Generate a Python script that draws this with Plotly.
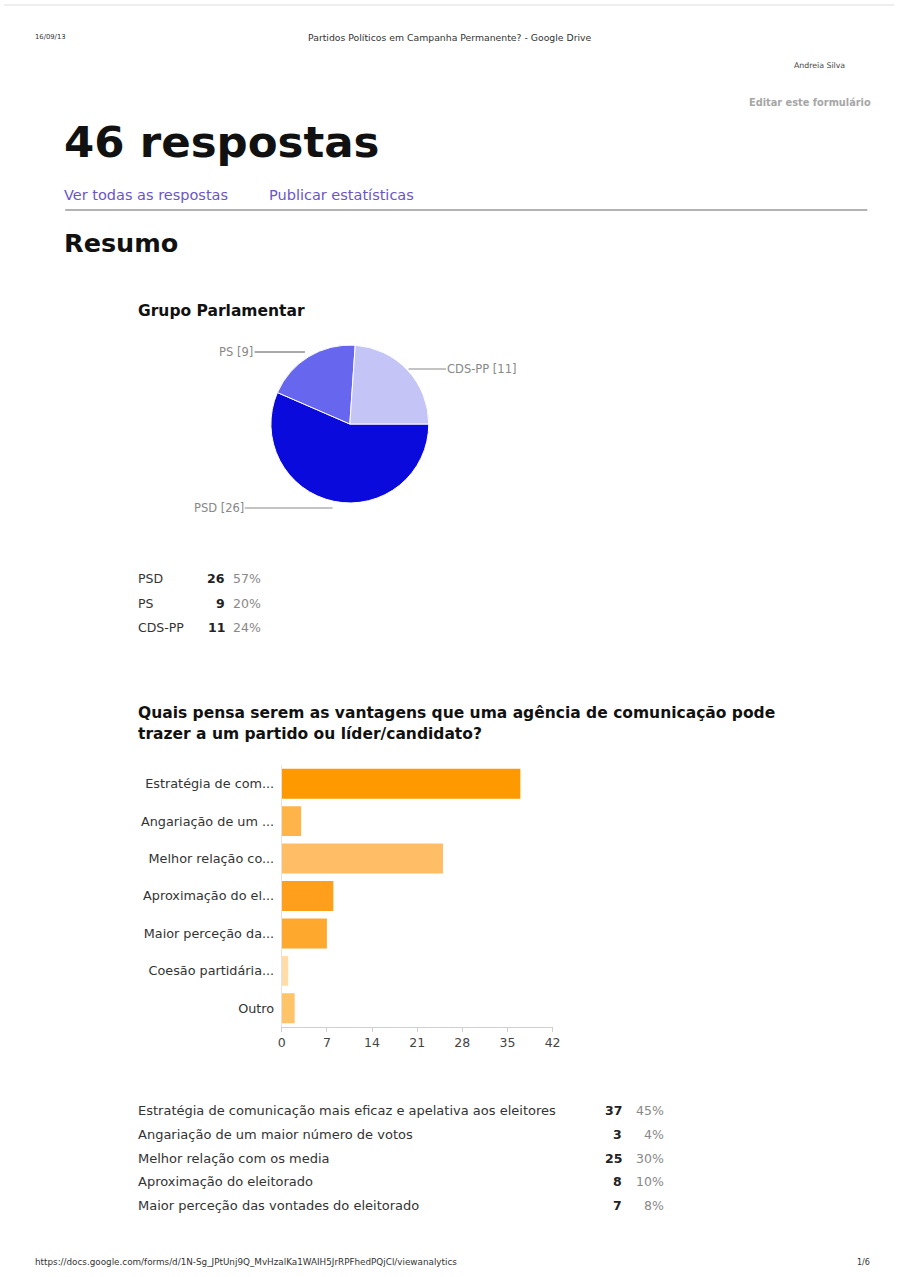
import plotly.graph_objects as go

W, H = 902, 1277

# ---- data ----
party_labels = ["PSD", "PS", "CDS-PP"]
party_counts = [26, 9, 11]
party_pcts = ["57%", "20%", "24%"]
party_colors = ["#0A0ADC", "#6666EE", "#C4C4F6"]

adv_short = ["Estratégia de com...", "Angariação de um ...", "Melhor relação co...",
             "Aproximação do el...", "Maior perceção da...", "Coesão partidária...", "Outro"]
adv_full = ["Estratégia de comunicação mais eficaz e apelativa aos eleitores",
            "Angariação de um maior número de votos",
            "Melhor relação com os media",
            "Aproximação do eleitorado",
            "Maior perceção das vontades do eleitorado"]
adv_counts = [37, 3, 25, 8, 7, 1, 2]
adv_pcts = ["45%", "4%", "30%", "10%", "8%"]
adv_colors = ["#FF9900", "#FFB44A", "#FFBE66", "#FF9F1C", "#FFA82E", "#FFDCA8", "#FFC468"]
adv_ticks = [0, 7, 14, 21, 28, 35, 42]

FONT = "DejaVu Sans"


def X(px):
    return px / W


def Y(py):
    return 1 - py / H


fig = go.Figure()

# pie: parliamentary group
fig.add_trace(go.Pie(
    labels=party_labels, values=party_counts, sort=False,
    direction="clockwise", rotation=90,
    marker=dict(colors=party_colors, line=dict(color="white", width=1)),
    textinfo="none", hoverinfo="label+value", showlegend=False,
    domain=dict(x=[X(270.5), X(430.5)], y=[Y(504), Y(344)]),
))

# horizontal bars: advantages
fig.add_trace(go.Bar(
    y=adv_short, x=adv_counts, orientation="h",
    marker=dict(color=adv_colors, line=dict(width=0)),
    showlegend=False, hoverinfo="x+y",
))

fig.update_layout(
    width=W, height=H,
    margin=dict(l=0, r=0, t=0, b=0),
    paper_bgcolor="white", plot_bgcolor="white",
    font=dict(family=FONT, color="#222"),
    bargap=0.2,
    xaxis=dict(domain=[X(281.5), X(556)], range=[0, 42], tickvals=adv_ticks,
               showgrid=False, zeroline=False, showline=True, linecolor="#cfcfcf",
               ticks="outside", ticklen=4, tickcolor="#cfcfcf",
               tickfont=dict(size=12.5, color="#444", family=FONT)),
    yaxis=dict(domain=[Y(1027), Y(765)], autorange="reversed",
               showgrid=False, zeroline=False, showline=True, linecolor="#e2e2e2",
               ticks="", ticklabelstandoff=4,
               tickfont=dict(size=12.8, color="#333", family=FONT)),
)

ann = []


def txt(x, y, s, size, color="#222", anchor="left", bold=False):
    # annotations carry a small inner padding; shift it back out
    shift = {"left": -3, "right": 3, "center": 0}[anchor]
    ann.append(dict(x=X(x), y=Y(y), xref="paper", yref="paper", showarrow=False,
                    text=f"<b>{s}</b>" if bold else s, xanchor=anchor, yanchor="middle",
                    xshift=shift,
                    font=dict(family=FONT, size=size, color=color)))


# page header
txt(32, 37, "16/09/13", 6.8, "#333")
txt(452, 37, "Partidos Políticos em Campanha Permanente? - Google Drive", 9.3, "#333", "center")
txt(851, 65, "Andreia Silva", 7.8, "#444", "right")
txt(878, 103, "Editar este formulário", 9.8, "#a6a6a6", "right", True)
txt(62, 142, "46 respostas", 43.5, "#111", bold=True)
txt(62, 195, "Ver todas as respostas", 14.5, "#6a55c8")
txt(270, 195, "Publicar estatísticas", 14.5, "#6a55c8")
txt(62, 243, "Resumo", 25.5, "#111", bold=True)

# pie section
txt(137, 311, "Grupo Parlamentar", 15.5, "#111", bold=True)
txt(251, 352, "PS [9]", 11.5, "#888", "right")
txt(450, 369, "CDS-PP [11]", 11.5, "#888", "left")
txt(242, 508, "PSD [26]", 11.5, "#888", "right")

row_y = [578, 603, 627]
for lab, c, p, yy in zip(party_labels, party_counts, party_pcts, row_y):
    txt(137, yy, lab, 12.5, "#333")
    txt(223, yy, str(c), 12.5, "#222", "right", True)
    txt(259, yy, p, 12.5, "#888", "right")

# bar section
txt(137, 713, "Quais pensa serem as vantagens que uma agência de comunicação pode", 15.5, "#111", bold=True)
txt(137, 734, "trazer a um partido ou líder/candidato?", 15.5, "#111", bold=True)

row_y2 = [1110, 1134, 1158, 1181, 1205]
for lab, c, p, yy in zip(adv_full, adv_counts, adv_pcts, row_y2):
    txt(137, yy, lab, 13, "#333")
    txt(625, yy, str(c), 12.5, "#222", "right", True)
    txt(668, yy, p, 12.5, "#888", "right")

# footer
txt(32, 1262, "https://docs.google.com/forms/d/1N-Sg_JPtUnj9Q_MvHzalKa1WAIH5JrRPFhedPQjCl/viewanalytics", 8.8, "#333")
txt(877, 1262, "1/6", 8, "#333", "right")

fig.update_layout(annotations=ann)

shapes = []


def hline(x0, x1, y, color, width):
    shapes.append(dict(type="line", xref="paper", yref="paper",
                       x0=X(x0), x1=X(x1), y0=Y(y), y1=Y(y),
                       line=dict(color=color, width=width)))


hline(0, W, 5, "#eeeeee", 2)
hline(62, 875, 210, "#9a9a9a", 1.5)
# pie leader lines
hline(254, 305, 352, "#555", 1)
hline(410, 448, 369, "#888", 1)
hline(244, 333, 508, "#888", 1)

fig.update_layout(shapes=shapes)

fig.write_html("out.html")
